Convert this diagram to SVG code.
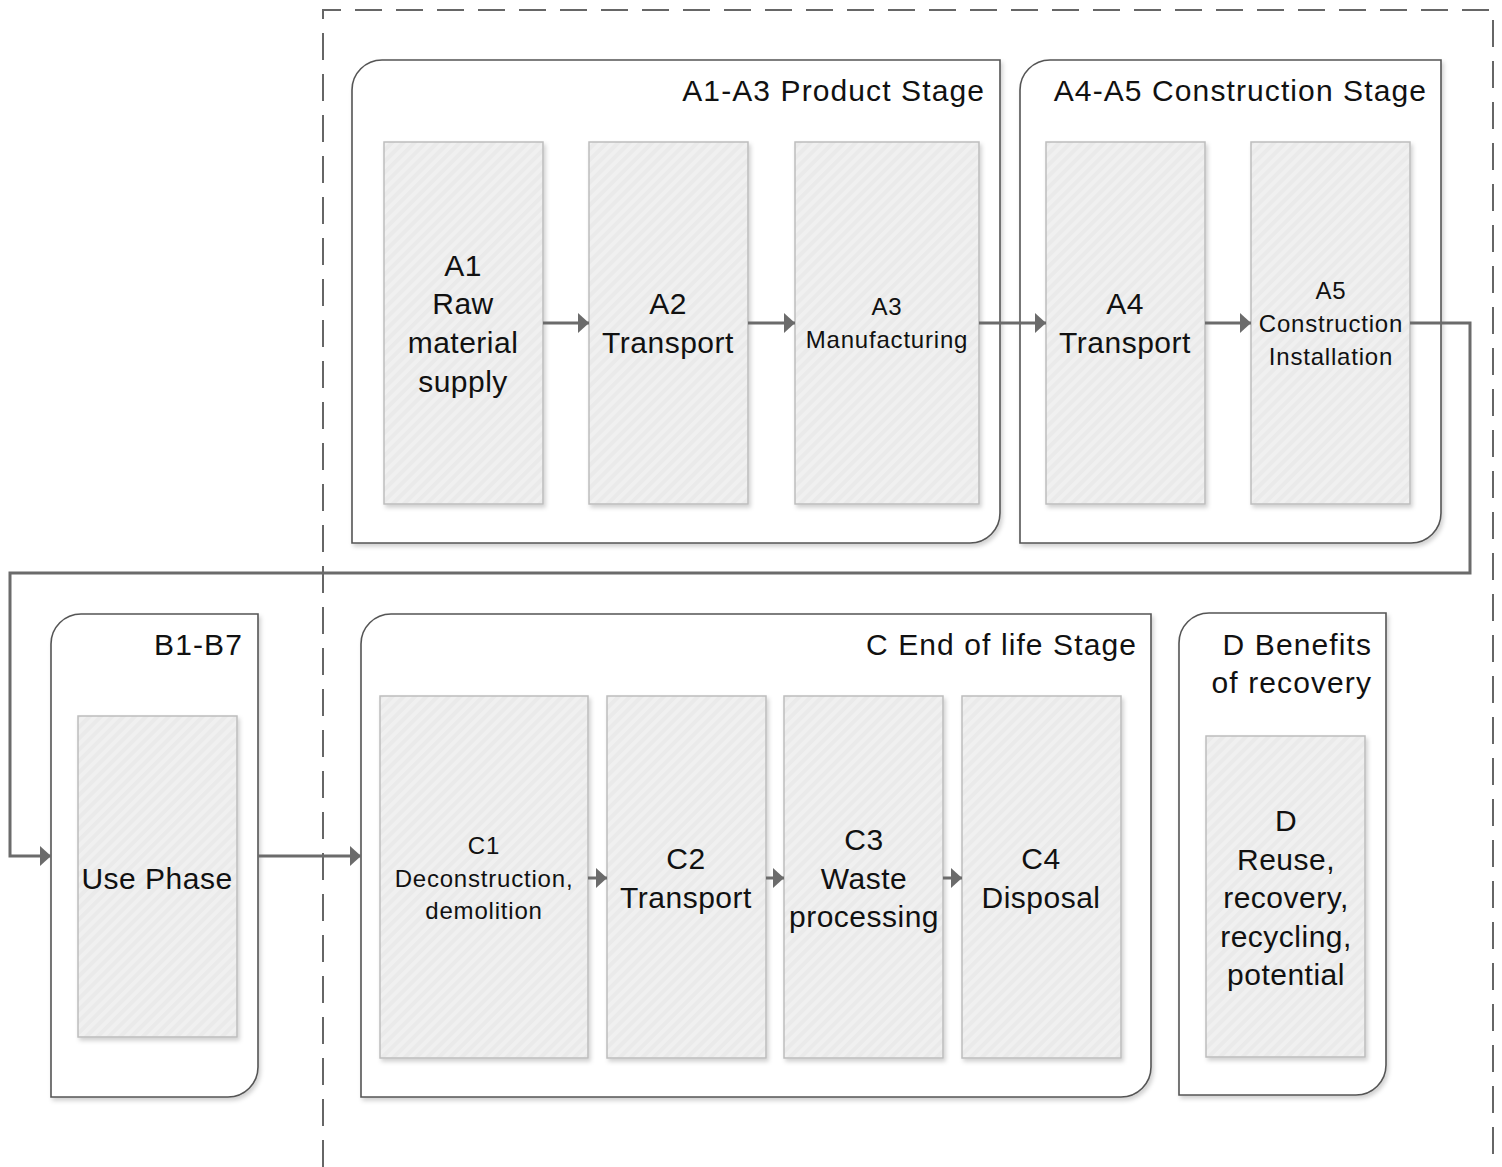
<svg xmlns="http://www.w3.org/2000/svg" width="1502" height="1167" viewBox="0 0 1502 1167">
<defs>
<pattern id="hatch" width="8" height="8" patternUnits="userSpaceOnUse" patternTransform="rotate(45)">
<rect width="8" height="8" fill="#f0f0f0"/>
<rect width="4" height="8" fill="#eaeaea"/>
</pattern>
<filter id="sh" x="-10%" y="-10%" width="130%" height="130%">
<feDropShadow dx="2" dy="3" stdDeviation="2" flood-color="#000" flood-opacity="0.18"/>
</filter>
<marker id="ah" markerUnits="userSpaceOnUse" markerWidth="12" markerHeight="20" refX="11" refY="10" orient="auto">
<path d="M0,0 L11,10 L0,20 Z" fill="#6b6b6b"/>
</marker>
</defs>
<style>
.grp{fill:#fff;stroke:#555;stroke-width:1.6;filter:url(#sh)}
.box{fill:url(#hatch);stroke:#bdbdbd;stroke-width:1.5;filter:url(#sh)}
.t{font-family:"Liberation Sans",Arial,sans-serif;font-size:30px;fill:#111;letter-spacing:0.5px}
.h{letter-spacing:1.1px}
.s{font-size:24px;letter-spacing:0.8px}
.m{text-anchor:middle}
.e{text-anchor:end}
.c{fill:none;stroke:#6b6b6b;stroke-width:3;marker-end:url(#ah)}
</style>
<rect width="1502" height="1167" fill="#fff"/>
<path d="M323,1167 L323,10 L1493,10 L1493,1167" fill="none" stroke="#666" stroke-width="2" stroke-dasharray="27,14"/>

<g id="grp-a1a3">
<path class="grp" d="M382,60 H1000 V513 A30,30 0 0 1 970,543 H352 V90 A30,30 0 0 1 382,60 Z"/>
<text class="t h e" x="985" y="101">A1-A3 Product Stage</text>
</g>
<g id="grp-a4a5">
<path class="grp" d="M1050,60 H1441 V513 A30,30 0 0 1 1411,543 H1020 V90 A30,30 0 0 1 1050,60 Z"/>
<text class="t h e" x="1427" y="101">A4-A5 Construction Stage</text>
</g>
<g id="grp-b">
<path class="grp" d="M81,614 H258 V1067 A30,30 0 0 1 228,1097 H51 V644 A30,30 0 0 1 81,614 Z"/>
<text class="t h e" x="243" y="655">B1-B7</text>
</g>
<g id="grp-c">
<path class="grp" d="M391,614 H1151 V1067 A30,30 0 0 1 1121,1097 H361 V644 A30,30 0 0 1 391,614 Z"/>
<text class="t h e" x="1137" y="655">C End of life Stage</text>
</g>
<g id="grp-d">
<path class="grp" d="M1209,613 H1386 V1065 A30,30 0 0 1 1356,1095 H1179 V643 A30,30 0 0 1 1209,613 Z"/>
<text class="t h e" x="1372" y="655">D Benefits</text>
<text class="t h e" x="1372" y="693">of recovery</text>
</g>

<g id="a1">
<rect class="box" x="384" y="142" width="159" height="362"/>
<text class="t m" x="463" y="276">A1</text>
<text class="t m" x="463" y="314">Raw</text>
<text class="t m" x="463" y="353">material</text>
<text class="t m" x="463" y="392">supply</text>
</g>
<g id="a2">
<rect class="box" x="589" y="142" width="159" height="362"/>
<text class="t m" x="668" y="314">A2</text>
<text class="t m" x="668" y="353">Transport</text>
</g>
<g id="a3">
<rect class="box" x="795" y="142" width="184" height="362"/>
<text class="t s m" x="887" y="315">A3</text>
<text class="t s m" x="887" y="348">Manufacturing</text>
</g>
<g id="a4">
<rect class="box" x="1046" y="142" width="159" height="362"/>
<text class="t m" x="1125" y="314">A4</text>
<text class="t m" x="1125" y="353">Transport</text>
</g>
<g id="a5">
<rect class="box" x="1251" y="142" width="159" height="362"/>
<text class="t s m" x="1331" y="299">A5</text>
<text class="t s m" x="1331" y="332">Construction</text>
<text class="t s m" x="1331" y="365">Installation</text>
</g>
<g id="use">
<rect class="box" x="78" y="716" width="159" height="321"/>
<text class="t m" x="157" y="889">Use Phase</text>
</g>
<g id="c1">
<rect class="box" x="380" y="696" width="208" height="362"/>
<text class="t s m" x="484" y="854">C1</text>
<text class="t s m" x="484" y="887">Deconstruction,</text>
<text class="t s m" x="484" y="919">demolition</text>
</g>
<g id="c2">
<rect class="box" x="607" y="696" width="159" height="362"/>
<text class="t m" x="686" y="869">C2</text>
<text class="t m" x="686" y="908">Transport</text>
</g>
<g id="c3">
<rect class="box" x="784" y="696" width="159" height="362"/>
<text class="t m" x="864" y="850">C3</text>
<text class="t m" x="864" y="889">Waste</text>
<text class="t m" x="864" y="927">processing</text>
</g>
<g id="c4">
<rect class="box" x="962" y="696" width="159" height="362"/>
<text class="t m" x="1041" y="869">C4</text>
<text class="t m" x="1041" y="908">Disposal</text>
</g>
<g id="d">
<rect class="box" x="1206" y="736" width="159" height="321"/>
<text class="t m" x="1286" y="831">D</text>
<text class="t m" x="1286" y="870">Reuse,</text>
<text class="t m" x="1286" y="908">recovery,</text>
<text class="t m" x="1286" y="947">recycling,</text>
<text class="t m" x="1286" y="985">potential</text>
</g>

<g id="connectors">
<path class="c" d="M543,323 H589"/>
<path class="c" d="M748,323 H795"/>
<path class="c" d="M979,323 H1046"/>
<path class="c" d="M1205,323 H1251"/>
<path class="c" d="M1410,323 H1470 V573 H10 V856 H51"/>
<path class="c" d="M258,856 H361"/>
<path class="c" d="M588,878 H607"/>
<path class="c" d="M766,878 H784"/>
<path class="c" d="M943,878 H962"/>
</g>
</svg>
